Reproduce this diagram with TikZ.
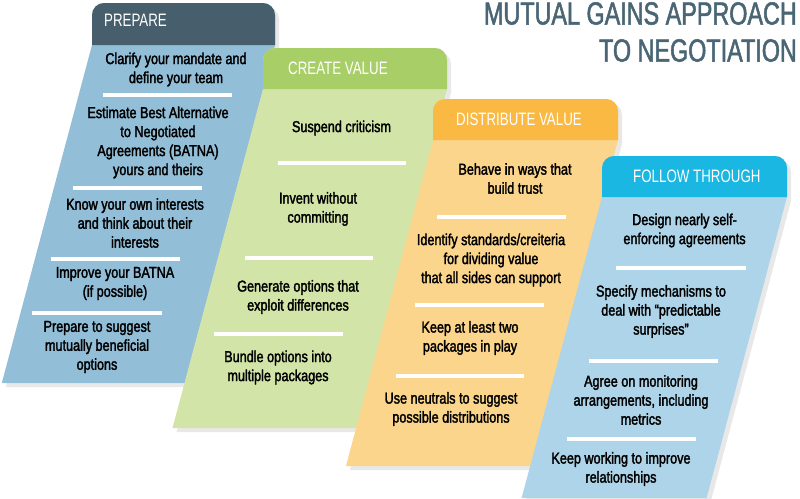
\documentclass[tikz,border=0pt]{standalone}
\usepackage{fontspec}
\setmainfont{Liberation Sans}[FakeStretch=0.80, FakeBold=2]
\newfontfamily\headfont{Liberation Sans}[FakeStretch=0.74]
\newfontfamily\titlefont{Liberation Sans}[FakeStretch=0.73, FakeBold=1.6]
\usetikzlibrary{shadows}
\definecolor{prepHead}{RGB}{71,95,109}
\definecolor{prepBody}{RGB}{146,190,216}
\definecolor{creaHead}{RGB}{168,206,104}
\definecolor{creaBody}{RGB}{210,228,167}
\definecolor{distHead}{RGB}{249,185,67}
\definecolor{distBody}{RGB}{251,213,140}
\definecolor{follHead}{RGB}{25,183,226}
\definecolor{follBody}{RGB}{173,212,232}
\definecolor{titleCol}{RGB}{74,102,117}
\tikzset{
  item/.style={align=center, text=black, inner sep=0pt, font=\fontsize{15.8}{19}\selectfont},
  head/.style={anchor=west, inner sep=0pt, text=white, font=\headfont\fontsize{18}{20}\selectfont},
  bar/.style={white, line width=4.5pt},
  colshadow/.style={drop shadow={shadow xshift=4pt, shadow yshift=-4pt, opacity=.18}}
}

\begin{document}
\begin{tikzpicture}[x=1pt, y=-1pt]
  \useasboundingbox (0,0) rectangle (800,498);
  % title
  \node[anchor=north east, align=right, inner sep=0pt, text=titleCol,
    font=\titlefont\fontsize{32}{37}\selectfont] (title) at (797,2) {MUTUAL GAINS APPROACH\\TO NEGOTIATION};

  % prepare
  \fill[prepBody, colshadow] (92,45) [rounded corners=12pt] -- (92,3) -- (275,3) [sharp corners] -- (275,45) -- (184.8,383) -- (1.8,383) -- cycle;
  \fill[prepHead] (92,45) [rounded corners=12pt] -- (92,3) -- (275,3) [sharp corners] -- (275,45) -- cycle;
  \node[head] (prephead) at (104,20.5) {PREPARE};
  \node[item] (prep1) at (176,69.5) {Clarify your mandate and\\define your team};
  \draw[bar] (103,95) -- (232,95);
  \node[item] (prep2) at (158,142.5) {Estimate Best Alternative\\to Negotiated\\Agreements (BATNA)\\yours and theirs};
  \draw[bar] (73,188) -- (202,188);
  \node[item] (prep3) at (135,223) {Know your own interests\\and think about their\\interests};
  \draw[bar] (51,259) -- (180,259);
  \node[item] (prep4) at (115,283.5) {Improve your BATNA\\(if possible)};
  \draw[bar] (32,313) -- (162,313);
  \node[item] (prep5) at (97,347) {Prepare to suggest\\mutually beneficial\\options};

  % create value
  \fill[creaBody, colshadow] (263,89) [rounded corners=12pt] -- (263,48) -- (447,48) [sharp corners] -- (447,89) -- (356.5,428) -- (172.5,428) -- cycle;
  \fill[creaHead] (263,89) [rounded corners=12pt] -- (263,48) -- (447,48) [sharp corners] -- (447,89) -- cycle;
  \node[head] (creahead) at (288,68) {CREATE VALUE};
  \node[item] (crea1) at (341.5,128) {Suspend criticism};
  \draw[bar] (278,163) -- (406,163);
  \node[item] (crea2) at (318,209) {Invent without\\committing};
  \draw[bar] (245,258) -- (373,258);
  \node[item] (crea3) at (298,297) {Generate options that\\exploit differences};
  \draw[bar] (214,334) -- (343,334);
  \node[item] (crea4) at (278,367.5) {Bundle options into\\multiple packages};

  % distribute value
  \fill[distBody, colshadow] (433,140) [rounded corners=12pt] -- (433,99) -- (618,99) [sharp corners] -- (618,140) -- (531,466) -- (346,466) -- cycle;
  \fill[distHead] (433,140) [rounded corners=12pt] -- (433,99) -- (618,99) [sharp corners] -- (618,140) -- cycle;
  \node[head] (disthead) at (456,119.5) {DISTRIBUTE VALUE};
  \node[item] (dist1) at (515,178.5) {Behave in ways that\\build trust};
  \draw[bar] (437,217) -- (566,217);
  \node[item] (dist2) at (491,260) {Identify standards/creiteria\\for dividing value\\that all sides can support};
  \draw[bar] (415,305) -- (544,305);
  \node[item] (dist3) at (470,338) {Keep at least two\\packages in play};
  \draw[bar] (396,376) -- (524,376);
  \node[item] (dist4) at (451,409) {Use neutrals to suggest\\possible distributions};

  % follow through
  \fill[follBody, colshadow] (602,197) [rounded corners=12pt] -- (602,156) -- (787,156) [sharp corners] -- (787,197) -- (706.6,498) -- (521.6,498) -- cycle;
  \fill[follHead] (602,197) [rounded corners=12pt] -- (602,156) -- (787,156) [sharp corners] -- (787,197) -- cycle;
  \node[head] (follhead) at (633,176.5) {FOLLOW THROUGH};
  \node[item] (foll1) at (684.5,230.5) {Design nearly self-\\enforcing agreements};
  \draw[bar] (616,268) -- (746,268);
  \node[item] (foll2) at (661,311.5) {Specify mechanisms to\\deal with “predictable\\surprises”};
  \draw[bar] (589,361) -- (718,361);
  \node[item] (foll3) at (641,400) {Agree on monitoring\\arrangements, including\\metrics};
  \draw[bar] (567,439) -- (696,439);
  \node[item] (foll4) at (621,469) {Keep working to improve\\relationships};
\end{tikzpicture}
\end{document}
